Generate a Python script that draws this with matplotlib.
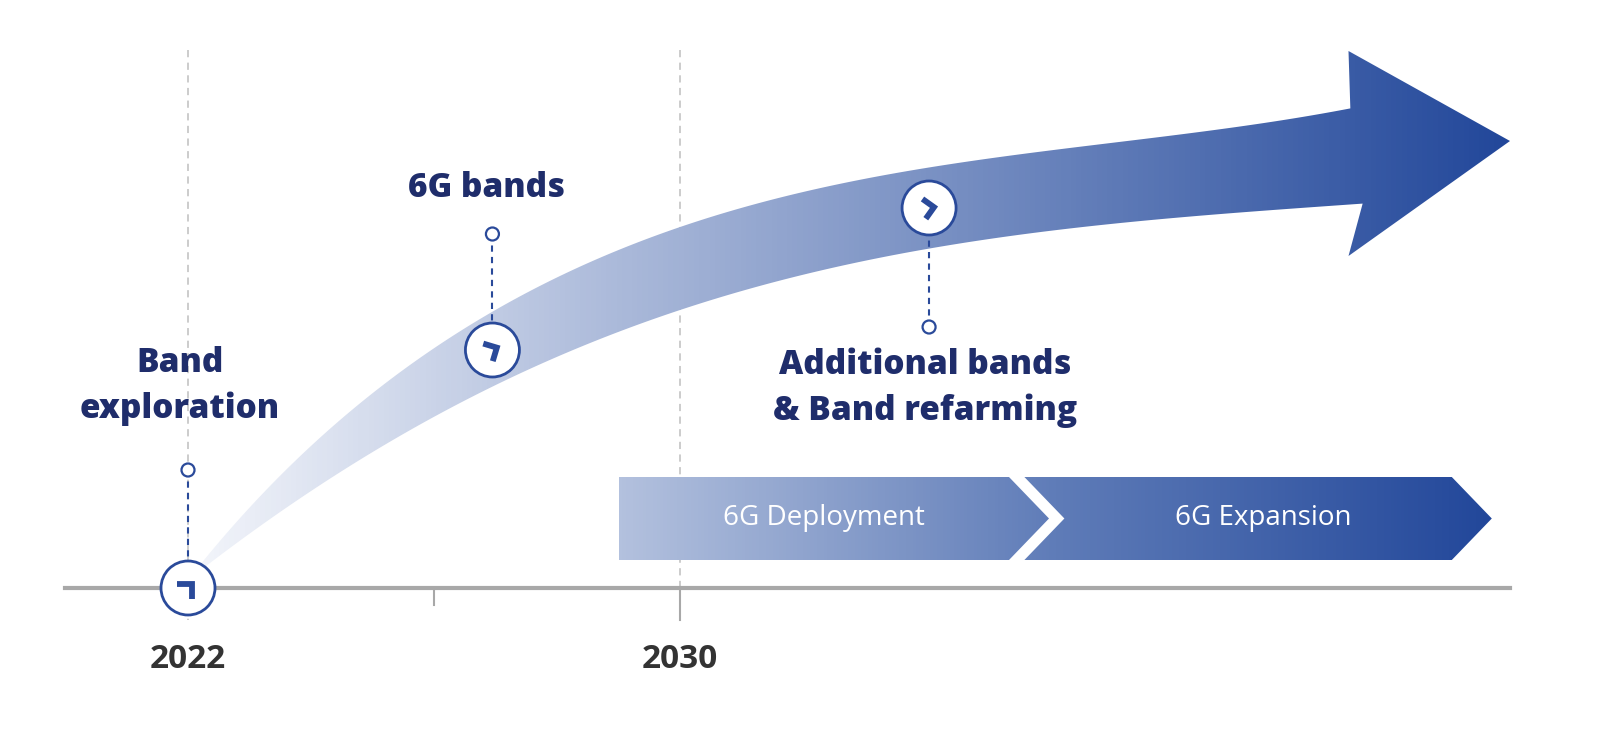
import matplotlib.pyplot as plt
import numpy as np
from matplotlib.colors import LinearSegmentedColormap
from matplotlib.patches import Circle, Polygon

# timeline data (years)
axis_years = [2022, 2030]
minor_tick_years = [2026]
milestone_years = [2022, 2026.95, 2034.05]
milestone_labels = ["Band\nexploration", "6G bands", "Additional bands\n& Band refarming"]
phase_labels = ["6G Deployment", "6G Expansion"]
phase_starts = [2029.0, 2035.6]
phase_ends = [2036.0, 2043.2]
# arrow centerline samples (year, height in px above baseline, half width px)
curve_years = [2022.0, 2026.95, 2034.05, 2041.0]
curve_heights = [8, 238, 380, 432]
curve_halfwidths = [0, 33, 40, 48]

NAVY = "#1f2d6b"
BLUE = "#2a4a9a"
BASE_Y = 588


def px(year):
    return 188 + (np.asarray(year) - 2022) * 61.5


fig = plt.figure(figsize=(16, 7.54), dpi=100)
ax = fig.add_axes([0, 0, 1, 1])
ax.set_xlim(0, 1600)
ax.set_ylim(754, 0)
ax.axis("off")

# guides
for yr in axis_years:
    ax.plot([px(yr)] * 2, [50, 620], ls=(0, (4, 3)), color="#c8c8c8", lw=1.3, zorder=0)
ax.plot([65, 1510], [BASE_Y, BASE_Y], color="#a8a8a8", lw=3, zorder=1)
for yr in minor_tick_years:
    ax.plot([px(yr)] * 2, [BASE_Y, 605], color="#a8a8a8", lw=1.5)
ax.plot([px(2030)] * 2, [BASE_Y, 620], color="#a8a8a8", lw=1.5)
for yr in axis_years:
    ax.text(px(yr), 660, str(yr), ha="center", va="center", fontsize=24,
            fontweight="bold", color="#333333", family="Open Sans")

# curved arrow
cx = px(curve_years)
cy = BASE_Y - np.array(curve_heights)
cy_fit = np.polyfit(cx, cy, 3)
w_fit = np.polyfit(cx, curve_halfwidths, 3)
xs = np.linspace(cx[0], cx[-1], 200)
ys = np.polyval(cy_fit, xs)
ws = np.clip(np.polyval(w_fit, xs), 0, None)
dy = np.gradient(ys, xs)
nx, ny = -dy / np.hypot(1, dy), 1 / np.hypot(1, dy)
upper = np.column_stack([xs - nx * ws, ys - ny * ws])
lower = np.column_stack([xs + nx * ws, ys + ny * ws])
ex, ey = xs[-1], ys[-1]
head = [(ex - 8, ey - 105), (1510, ey - 15), (ex - 8, ey + 100)]
shape = np.vstack([upper, head, lower[::-1]])
arrow_cmap = LinearSegmentedColormap.from_list("a", ["#f4f6fb", "#a9b8d9", "#6580ba", "#22479a"])
poly = Polygon(shape, closed=True, facecolor="none", edgecolor="none")
ax.add_patch(poly)
im = ax.imshow(np.linspace(0, 1, 256)[None, :], cmap=arrow_cmap, extent=(cx[0], 1510, 754, 0),
               aspect="auto", zorder=2)
im.set_clip_path(poly)

# phase bars
bar_cmap = LinearSegmentedColormap.from_list("b", ["#b3c1de", "#5f7cb8", "#22479a"])
y0, y1, ym = 477, 560, 518.5
for i, (s, e, lab) in enumerate(zip(phase_starts, phase_ends, phase_labels)):
    xs0, xe = px(s), px(e)
    if i == 0:
        pts = [(xs0, y0), (xe - 40, y0), (xe, ym), (xe - 40, y1), (xs0, y1)]
    else:
        pts = [(xs0, y0), (xe - 40, y0), (xe, ym), (xe - 40, y1), (xs0, y1), (xs0 + 40, ym)]
    p = Polygon(pts, closed=True, facecolor="none", edgecolor="none")
    ax.add_patch(p)
    im = ax.imshow(np.linspace(0, 1, 256)[None, :], cmap=bar_cmap,
                   extent=(px(phase_starts[0]), px(phase_ends[-1]), 754, 0),
                   aspect="auto", zorder=2)
    im.set_clip_path(p)
    mid = (xs0 + xe) / 2 + (0 if i == 0 else 15)
    ax.text(mid - 10, ym, lab, ha="center", va="center", color="white", fontsize=20,
            family="Open Sans", zorder=3)
ax.set_xlim(0, 1600)
ax.set_ylim(754, 0)

# milestones
label_pos = [(180, 386, 470), (487, 188, 234), (925, 388, 327)]
for yr, lab, (tx, ty, dot_y) in zip(milestone_years, milestone_labels, label_pos):
    mx = px(yr)
    my = BASE_Y if yr == 2022 else np.polyval(cy_fit, mx)
    ax.plot([mx, mx], [dot_y, my], ls=(0, (3, 2.5)), color=BLUE, lw=1.5, zorder=3)
    ax.add_patch(Circle((mx, dot_y), 6.5, facecolor="white", edgecolor=BLUE, lw=1.6, zorder=4))
    ax.add_patch(Circle((mx, my), 27, facecolor="white", edgecolor=BLUE, lw=2, zorder=4))
    slope = np.polyval(np.polyder(cy_fit), mx)
    ang = np.arctan2(slope, 1)
    if yr == 2022:
        ang = np.deg2rad(-45)
    d = np.array([np.cos(ang), np.sin(ang)])
    n = np.array([-d[1], d[0]])
    tip = np.array([mx, my]) + d * 5
    a1 = tip - d * 10 + n * 10
    a2 = tip - d * 10 - n * 10
    ax.plot([a1[0], tip[0], a2[0]], [a1[1], tip[1], a2[1]], color=BLUE, lw=4.2,
            solid_joinstyle="miter", solid_capstyle="butt", zorder=5)
    ax.text(tx, ty, lab, ha="center", va="center", fontsize=24, fontweight=800,
            color=NAVY, family="Open Sans", linespacing=1.4, zorder=5)

fig.savefig("out.png", dpi=100, facecolor="white")
